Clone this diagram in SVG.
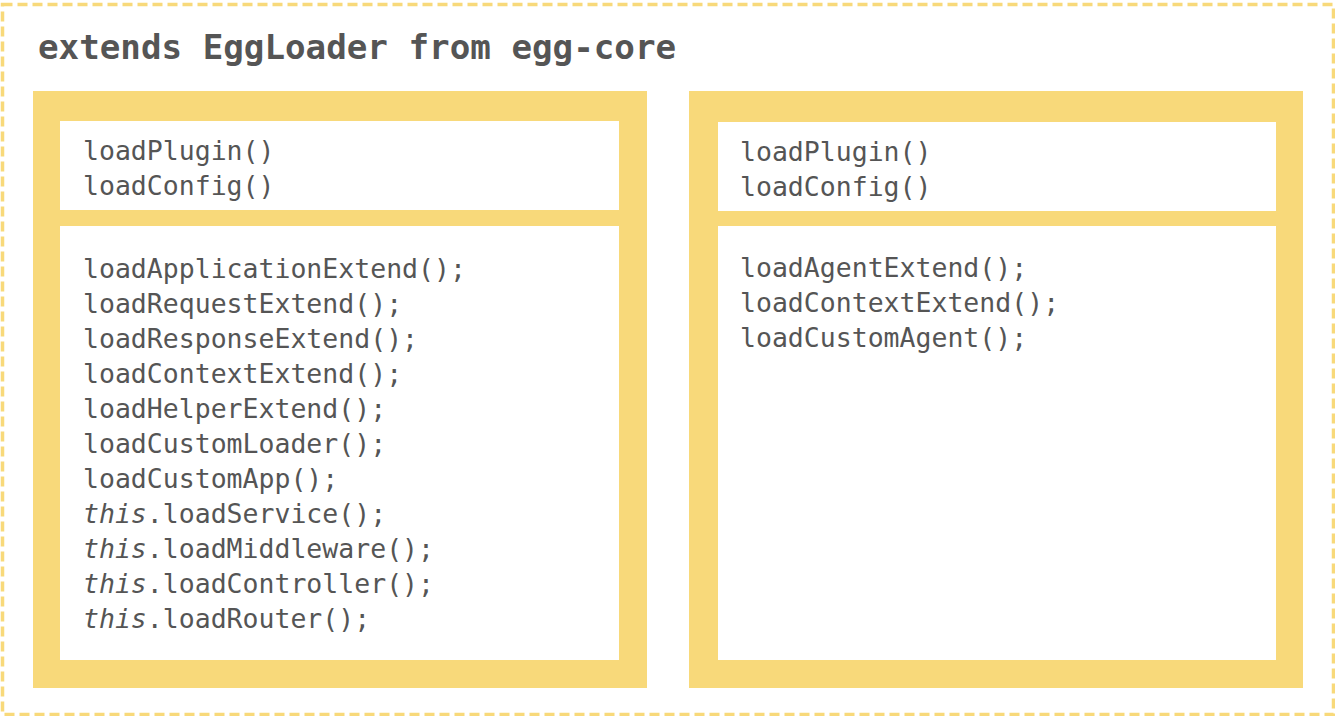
<svg xmlns="http://www.w3.org/2000/svg" width="1335" height="716" viewBox="0 0 1335 716">
<style>
.frame{fill:none;stroke:#f8d97a;stroke-width:3.5;stroke-dasharray:10 5}
.outer{fill:#f8d97a}
.inner{fill:#ffffff}
.code{font-family:"DejaVu Sans Mono","Liberation Mono",monospace;font-size:26.5px;fill:#555555}
.title{font-family:"DejaVu Sans Mono","Liberation Mono",monospace;font-size:34.2px;font-weight:bold;fill:#555555}
.it{font-style:italic}
</style>
<rect width="1335" height="716" fill="#ffffff"/>
<rect class="frame" x="2.5" y="4.5" width="1331" height="710"/>
<text class="title" x="38" y="59">extends EggLoader from egg-core</text>
<g id="app">
<rect class="outer" x="33" y="91" width="614" height="597"/>
<g id="app-config">
<rect class="inner" x="60" y="121" width="559" height="89"/>
<text class="code" x="83" y="160">loadPlugin()</text>
<text class="code" x="83" y="195">loadConfig()</text>
</g>
<g id="app-load">
<rect class="inner" x="60" y="226" width="559" height="434"/>
<text class="code" x="83" y="278">loadApplicationExtend();</text>
<text class="code" x="83" y="313">loadRequestExtend();</text>
<text class="code" x="83" y="348">loadResponseExtend();</text>
<text class="code" x="83" y="383">loadContextExtend();</text>
<text class="code" x="83" y="418">loadHelperExtend();</text>
<text class="code" x="83" y="453">loadCustomLoader();</text>
<text class="code" x="83" y="488">loadCustomApp();</text>
<text class="code" x="83" y="523"><tspan class="it">this</tspan>.loadService();</text>
<text class="code" x="83" y="558"><tspan class="it">this</tspan>.loadMiddleware();</text>
<text class="code" x="83" y="593"><tspan class="it">this</tspan>.loadController();</text>
<text class="code" x="83" y="628"><tspan class="it">this</tspan>.loadRouter();</text>
</g>
</g>
<g id="agent">
<rect class="outer" x="689" y="91" width="614" height="597"/>
<g id="agent-config">
<rect class="inner" x="718" y="122" width="558" height="89"/>
<text class="code" x="740" y="161">loadPlugin()</text>
<text class="code" x="740" y="196">loadConfig()</text>
</g>
<g id="agent-load">
<rect class="inner" x="718" y="226" width="558" height="434"/>
<text class="code" x="740" y="277">loadAgentExtend();</text>
<text class="code" x="740" y="312">loadContextExtend();</text>
<text class="code" x="740" y="347">loadCustomAgent();</text>
</g>
</g>
<g id="connectors"/>
</svg>
